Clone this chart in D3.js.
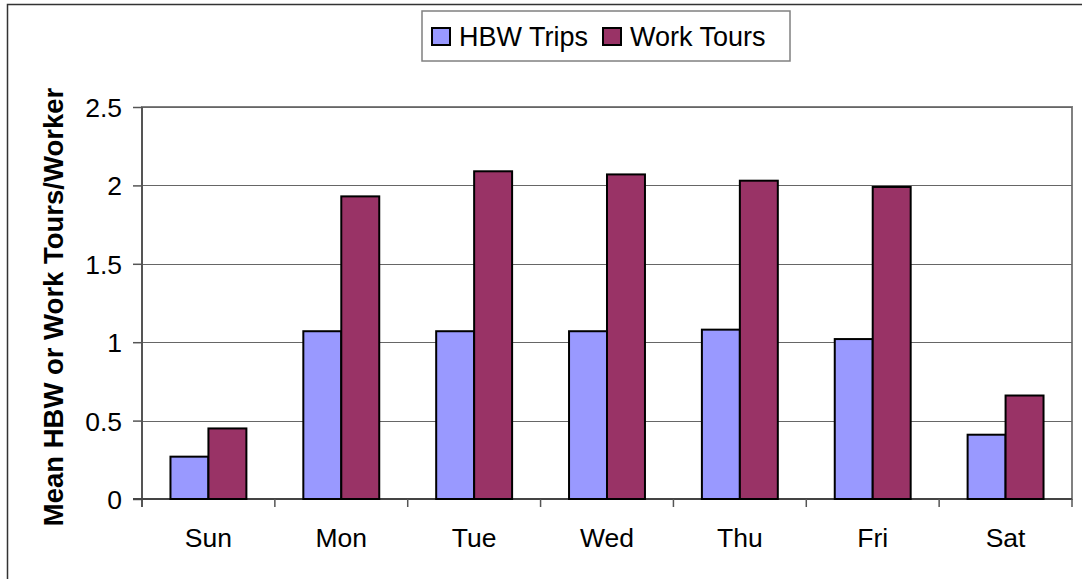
<!DOCTYPE html>
<html>
<head>
<meta charset="utf-8">
<script src="https://cdn.jsdelivr.net/npm/d3@7"></script>
<style>
  body { margin: 0; background: #fff; }
  svg { display: block; font-family: "Liberation Sans", Arial, sans-serif; }
</style>
</head>
<body>
<svg id="root" width="1082" height="579"></svg>
<script>
"use strict";

// chart data
const days = ["Sun", "Mon", "Tue", "Wed", "Thu", "Fri", "Sat"];
const seriesNames = ["HBW Trips", "Work Tours"];
const hbwTrips = [0.27, 1.07, 1.07, 1.07, 1.08, 1.02, 0.41];
const workTours = [0.45, 1.93, 2.09, 2.07, 2.03, 1.99, 0.66];
const yTicks = [0, 0.5, 1, 1.5, 2, 2.5];
const yTickLabels = ["0", "0.5", "1", "1.5", "2", "2.5"];
const colors = ["#9999ff", "#993366"];

const svg = d3.select("#root");

// plot area
const plot = { left: 142, right: 1072, top: 107, bottom: 499 };

const x0 = d3.scaleBand().domain(days).range([plot.left, plot.right]);
const x1 = d3
  .scaleBand()
  .domain(seriesNames)
  .range([0, x0.bandwidth()])
  .paddingOuter(0.75);
const y = d3.scaleLinear().domain([0, 2.5]).range([plot.bottom, plot.top]);

// outer frame (right and bottom edges fall outside the picture)
svg
  .append("rect")
  .attr("x", 7.5)
  .attr("y", 4.5)
  .attr("width", 1200)
  .attr("height", 700)
  .attr("fill", "none")
  .attr("stroke", "#333")
  .attr("stroke-width", 1.5);

// plot border
svg
  .append("rect")
  .attr("x", plot.left)
  .attr("y", plot.top)
  .attr("width", plot.right - plot.left)
  .attr("height", plot.bottom - plot.top)
  .attr("fill", "none")
  .attr("stroke", "#808080")
  .attr("stroke-width", 2);

// gridlines
svg
  .append("g")
  .selectAll("line")
  .data(yTicks.slice(1))
  .join("line")
  .attr("x1", plot.left)
  .attr("x2", plot.right)
  .attr("y1", (d) => Math.round(y(d)) + 0.5)
  .attr("y2", (d) => Math.round(y(d)) + 0.5)
  .attr("stroke", "#666")
  .attr("stroke-width", 1.2);

// y axis
const yAxis = d3
  .axisLeft(y)
  .tickValues(yTicks)
  .tickFormat((d, i) => yTickLabels[i])
  .tickSize(9)
  .tickPadding(11)
  .tickSizeOuter(0);
const yAxisG = svg
  .append("g")
  .attr("transform", `translate(${plot.left},0)`)
  .call(yAxis);
yAxisG.select(".domain").attr("stroke", "#555").attr("stroke-width", 2)
  .attr("d", `M0,${plot.top}V${plot.bottom + 8}`);
yAxisG.selectAll(".tick line").attr("stroke", "#555").attr("stroke-width", 1.5);
yAxisG
  .selectAll(".tick text")
  .attr("fill", "#000")
  .style("font-size", "26.5px")
  .attr("dy", "0.36em");

// x axis
const xAxisG = svg.append("g").attr("transform", `translate(0,${plot.bottom})`);
xAxisG
  .append("line")
  .attr("x1", plot.left - 9)
  .attr("x2", plot.right)
  .attr("y1", 0)
  .attr("y2", 0)
  .attr("stroke", "#444")
  .attr("stroke-width", 2);
xAxisG
  .selectAll("line.tick")
  .data(days.slice(1).concat(["end"]))
  .join("line")
  .attr("class", "tick")
  .attr("x1", (d) => (d === "end" ? plot.right : x0(d)))
  .attr("x2", (d) => (d === "end" ? plot.right : x0(d)))
  .attr("y1", 0)
  .attr("y2", 8)
  .attr("stroke", "#555")
  .attr("stroke-width", 1.5);
xAxisG
  .selectAll("text")
  .data(days)
  .join("text")
  .attr("x", (d) => x0(d) + x0.bandwidth() / 2)
  .attr("y", 48)
  .attr("text-anchor", "middle")
  .style("font-size", "26.5px")
  .attr("fill", "#000")
  .text((d) => d);

// bars
const groups = svg
  .append("g")
  .selectAll("g")
  .data(days)
  .join("g")
  .attr("transform", (d) => `translate(${x0(d)},0)`);

groups
  .selectAll("rect")
  .data((d, i) => [
    { key: seriesNames[0], value: hbwTrips[i] },
    { key: seriesNames[1], value: workTours[i] },
  ])
  .join("rect")
  .attr("x", (d) => x1(d.key))
  .attr("y", (d) => y(d.value))
  .attr("width", x1.bandwidth())
  .attr("height", (d) => y(0) - y(d.value))
  .attr("fill", (d, i) => colors[i])
  .attr("stroke", "#000")
  .attr("stroke-width", 2);

// y axis title
svg
  .append("text")
  .attr("transform", `translate(63,${(plot.top + plot.bottom) / 2 + 4}) rotate(-90)`)
  .attr("text-anchor", "middle")
  .style("font-size", "27.5px")
  .style("font-weight", "bold")
  .attr("fill", "#000")
  .text("Mean HBW or Work Tours/Worker");

// legend
const legend = svg.append("g").attr("transform", "translate(422,11)");
legend
  .append("rect")
  .attr("width", 368)
  .attr("height", 50)
  .attr("fill", "#fff")
  .attr("stroke", "#808080")
  .attr("stroke-width", 1.5);

const legendItems = [
  { name: seriesNames[0], color: colors[0], x: 10 },
  { name: seriesNames[1], color: colors[1], x: 181 },
];
const items = legend
  .selectAll("g")
  .data(legendItems)
  .join("g")
  .attr("transform", (d) => `translate(${d.x},17)`);
items
  .append("rect")
  .attr("width", 18)
  .attr("height", 17)
  .attr("fill", (d) => d.color)
  .attr("stroke", "#000")
  .attr("stroke-width", 2);
items
  .append("text")
  .attr("x", 27)
  .attr("y", 18)
  .style("font-size", "27px")
  .attr("fill", "#000")
  .text((d) => d.name);
</script>
</body>
</html>
